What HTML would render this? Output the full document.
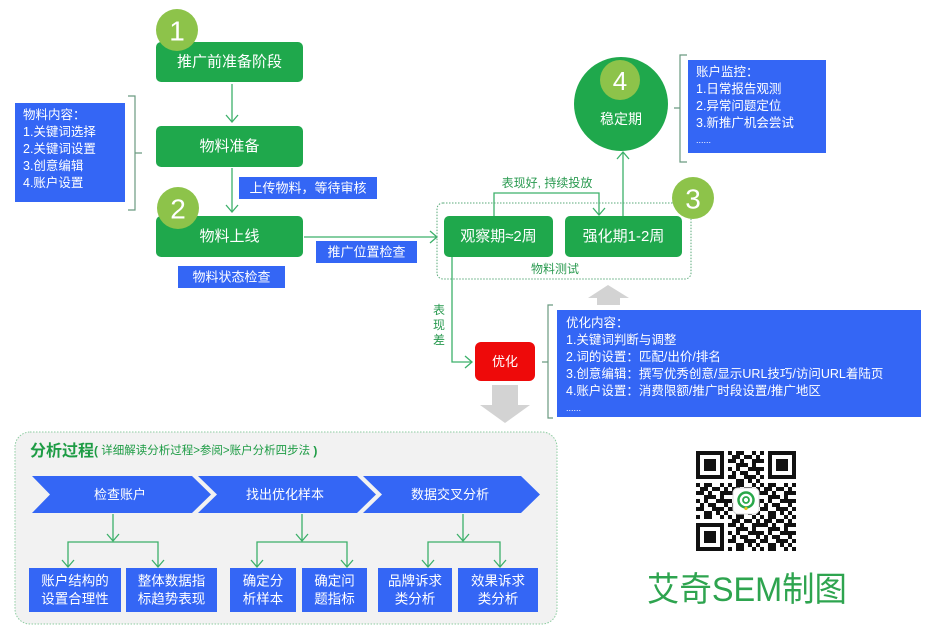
<!DOCTYPE html>
<html><head><meta charset="utf-8"><style>
html,body{margin:0;padding:0;background:#fff;width:933px;height:641px;overflow:hidden}
svg{display:block;font-family:"Liberation Sans","Noto Sans CJK SC",sans-serif}
</style></head><body>
<svg width="933" height="641" viewBox="0 0 933 641" xmlns="http://www.w3.org/2000/svg">
<defs>
<pattern id="qr" x="696" y="451" width="32" height="32" patternUnits="userSpaceOnUse">
<path fill="#111" d="M0 0h4v4h-4z M8 0h8v4h-8z M24 0h4v4h-4z M4 4h8v4h-8z M16 4h8v4h-8z M28 4h4v4h-4z M0 8h8v4h-8z M12 8h4v4h-4z M24 8h8v4h-8z M8 12h12v4h-12z M24 12h4v4h-4z M0 16h4v4h-4z M8 16h4v4h-4z M20 16h12v4h-12z M4 20h4v4h-4z M12 20h8v4h-8z M28 20h4v4h-4z M0 24h8v4h-8z M16 24h12v4h-12z M8 28h8v4h-8z M20 28h4v4h-4z M28 28h4v4h-4z"/>
</pattern>
</defs>

<!-- connectors top-left -->
<g stroke="#3cb06a" stroke-width="1.3" fill="none">
<line x1="232" y1="84" x2="232" y2="122"/><polyline points="226,115 232,122 238,115"/>
<line x1="232" y1="168" x2="232" y2="212"/><polyline points="226,205 232,212 238,205"/>
<line x1="304" y1="237" x2="437" y2="237"/><polyline points="430,231 437,237 430,243"/>
<polyline points="494,216 494,193 599,193 599,215"/><polyline points="593,208 599,215 605,208"/>
<line x1="623" y1="216" x2="623" y2="152"/><polyline points="617,159 623,152 629,159"/>
<polyline points="452,257 452,362 472,362"/><polyline points="465,356 472,362 465,368"/>
</g>
<!-- brackets -->
<g stroke="#6a9a80" stroke-width="1.2" fill="none">
<path d="M128,96 H135 V210 H128 M135,153 H142"/>
<path d="M687,55 H680 V162 H687 M680,108 H674"/>
<path d="M553,305 H548 V418 H553 M548,362 H542"/>
</g>

<!-- stage 1/2 boxes -->
<rect x="156" y="42" width="147" height="40" rx="5" fill="#1fa84c"/>
<text x="229.5" y="62" fill="#fff" font-size="15" text-anchor="middle" dominant-baseline="central">推广前准备阶段</text>
<circle cx="177" cy="30" r="21" fill="#8dc34a"/>
<text x="177" y="31" fill="#fff" font-size="28" text-anchor="middle" dominant-baseline="central">1</text>

<rect x="156" y="126" width="147" height="41" rx="5" fill="#1fa84c"/>
<text x="229.5" y="146.5" fill="#fff" font-size="15" text-anchor="middle" dominant-baseline="central">物料准备</text>

<rect x="156" y="216" width="147" height="41" rx="5" fill="#1fa84c"/>
<text x="229.5" y="236.5" fill="#fff" font-size="15" text-anchor="middle" dominant-baseline="central">物料上线</text>
<circle cx="178" cy="208" r="21" fill="#8dc34a"/>
<text x="178" y="209" fill="#fff" font-size="28" text-anchor="middle" dominant-baseline="central">2</text>

<!-- left blue -->
<rect x="15" y="103" width="110" height="99" fill="#3466f5"/>
<g fill="#fff" font-size="12.5" dominant-baseline="central">
<text x="23" y="115">物料内容：</text>
<text x="23" y="132">1.关键词选择</text>
<text x="23" y="149">2.关键词设置</text>
<text x="23" y="166">3.创意编辑</text>
<text x="23" y="183">4.账户设置</text>
</g>

<rect x="239" y="177" width="138" height="22" fill="#3466f5"/>
<text x="308" y="188" fill="#fff" font-size="13" text-anchor="middle" dominant-baseline="central">上传物料，等待审核</text>
<rect x="178" y="266" width="107" height="22" fill="#3466f5"/>
<text x="231.5" y="277" fill="#fff" font-size="13" text-anchor="middle" dominant-baseline="central">物料状态检查</text>
<rect x="316" y="241" width="101" height="22" fill="#3466f5"/>
<text x="366.5" y="252" fill="#fff" font-size="13" text-anchor="middle" dominant-baseline="central">推广位置检查</text>

<!-- stage 3 -->
<rect x="437" y="203" width="254" height="76" rx="6" fill="none" stroke="#5aaa7a" stroke-width="1" stroke-dasharray="1.5,1.5"/>
<rect x="444" y="216" width="109" height="41" rx="5" fill="#1fa84c"/>
<text x="498.5" y="236.5" fill="#fff" font-size="15" text-anchor="middle" dominant-baseline="central">观察期≈2周</text>
<rect x="565" y="216" width="117" height="41" rx="5" fill="#1fa84c"/>
<text x="623.5" y="236.5" fill="#fff" font-size="15" text-anchor="middle" dominant-baseline="central">强化期1-2周</text>
<text x="547" y="183" fill="#2a9a50" font-size="12" text-anchor="middle" dominant-baseline="central">表现好, 持续投放</text>
<text x="555" y="269" fill="#2a9a50" font-size="12" text-anchor="middle" dominant-baseline="central">物料测试</text>
<circle cx="693" cy="198" r="21" fill="#8dc34a"/>
<text x="693" y="199" fill="#fff" font-size="28" text-anchor="middle" dominant-baseline="central">3</text>

<!-- stage 4 -->
<circle cx="621" cy="104" r="47" fill="#1fa84c"/>
<circle cx="620" cy="80" r="20" fill="#8dc34a"/>
<text x="620" y="81" fill="#fff" font-size="26" text-anchor="middle" dominant-baseline="central">4</text>
<text x="621" y="119" fill="#fff" font-size="14" text-anchor="middle" dominant-baseline="central">稳定期</text>
<rect x="688" y="60" width="138" height="93" fill="#3466f5"/>
<g fill="#fff" font-size="12.5" dominant-baseline="central">
<text x="696" y="72">账户监控：</text>
<text x="696" y="89">1.日常报告观测</text>
<text x="696" y="106">2.异常问题定位</text>
<text x="696" y="123">3.新推广机会尝试</text>
<text x="696" y="140" font-size="9">......</text>
</g>

<!-- optimize -->
<g fill="#2a9a50" font-size="12" text-anchor="middle" dominant-baseline="central">
<text x="439" y="310">表</text><text x="439" y="325">现</text><text x="439" y="340">差</text>
</g>
<rect x="475" y="342" width="60" height="39" rx="6" fill="#ee0a0a"/>
<text x="505" y="361.5" fill="#fff" font-size="13" text-anchor="middle" dominant-baseline="central">优化</text>
<polygon points="608,285 629,298 620,298 620,305 597,305 597,298 588,298" fill="#d3d3d3"/>
<rect x="492" y="385" width="26" height="20" fill="#d3d3d3"/>
<polygon points="480,405 530,405 505,423" fill="#d3d3d3"/>

<rect x="557" y="310" width="364" height="107" fill="#3466f5"/>
<g fill="#fff" font-size="12.5" dominant-baseline="central">
<text x="566" y="323">优化内容：</text>
<text x="566" y="340">1.关键词判断与调整</text>
<text x="566" y="357">2.词的设置：匹配/出价/排名</text>
<text x="566" y="374">3.创意编辑：撰写优秀创意/显示URL技巧/访问URL着陆页</text>
<text x="566" y="391">4.账户设置：消费限额/推广时段设置/推广地区</text>
<text x="566" y="408" font-size="9">......</text>
</g>

<!-- bottom panel -->
<rect x="15" y="432" width="542" height="192" rx="15" fill="#f2f2f2" stroke="#8ccca0" stroke-width="1" stroke-dasharray="1.5,1.5"/>
<text x="30" y="451" fill="#1e9c45" dominant-baseline="central"><tspan font-size="16" font-weight="bold">分析过程</tspan><tspan font-size="12" font-weight="bold">(</tspan><tspan font-size="11.5"> 详细解读分析过程&gt;参阅&gt;账户分析四步法 </tspan><tspan font-size="12" font-weight="bold">)</tspan></text>

<polygon points="32,476 192,476 211,494.5 192,513 32,513 50,494.5" fill="#3466f5"/>
<polygon points="198,476 357,476 376,494.5 357,513 198,513 217,494.5" fill="#3466f5"/>
<polygon points="363,476 521,476 540,494.5 521,513 363,513 382,494.5" fill="#3466f5"/>
<g fill="#fff" font-size="13" text-anchor="middle" dominant-baseline="central">
<text x="120" y="494.5">检查账户</text>
<text x="285" y="494.5">找出优化样本</text>
<text x="450" y="494.5">数据交叉分析</text>
</g>

<g stroke="#3cb06a" stroke-width="1.3" fill="none">
<line x1="113" y1="514" x2="113" y2="541"/><polyline points="107,534 113,541 119,534"/>
<polyline points="68,567 68,542 158,542 158,567"/>
<polyline points="62,560 68,567 74,560"/><polyline points="152,560 158,567 164,560"/>
<line x1="302" y1="514" x2="302" y2="541"/><polyline points="296,534 302,541 308,534"/>
<polyline points="257,567 257,542 347,542 347,567"/>
<polyline points="251,560 257,567 263,560"/><polyline points="341,560 347,567 353,560"/>
<line x1="463" y1="514" x2="463" y2="541"/><polyline points="457,534 463,541 469,534"/>
<polyline points="428,567 428,542 500,542 500,567"/>
<polyline points="422,560 428,567 434,560"/><polyline points="494,560 500,567 506,560"/>
</g>

<g fill="#3466f5">
<rect x="29" y="568" width="92" height="44"/>
<rect x="126" y="568" width="91" height="44"/>
<rect x="230" y="568" width="66" height="44"/>
<rect x="302" y="568" width="65" height="44"/>
<rect x="378" y="568" width="74" height="44"/>
<rect x="458" y="568" width="80" height="44"/>
</g>
<g fill="#fff" font-size="13.5" text-anchor="middle" dominant-baseline="central">
<text x="75" y="581">账户结构的</text><text x="75" y="599">设置合理性</text>
<text x="171.5" y="581">整体数据指</text><text x="171.5" y="599">标趋势表现</text>
<text x="263" y="581">确定分</text><text x="263" y="599">析样本</text>
<text x="334.5" y="581">确定问</text><text x="334.5" y="599">题指标</text>
<text x="415" y="581">品牌诉求</text><text x="415" y="599">类分析</text>
<text x="498" y="581">效果诉求</text><text x="498" y="599">类分析</text>
</g>

<!-- QR -->
<rect x="696" y="451" width="100" height="100" fill="#fff"/>
<rect x="696" y="451" width="100" height="100" fill="url(#qr)"/>
<g>
<rect x="696" y="451" width="32" height="32" fill="#fff"/>
<rect x="764" y="451" width="32" height="32" fill="#fff"/>
<rect x="696" y="519" width="32" height="32" fill="#fff"/>
<rect x="696" y="451" width="28" height="28" fill="#111"/><rect x="700" y="455" width="20" height="20" fill="#fff"/><rect x="704" y="459" width="12" height="12" fill="#111"/>
<rect x="768" y="451" width="28" height="28" fill="#111"/><rect x="772" y="455" width="20" height="20" fill="#fff"/><rect x="776" y="459" width="12" height="12" fill="#111"/>
<rect x="696" y="523" width="28" height="28" fill="#111"/><rect x="700" y="527" width="20" height="20" fill="#fff"/><rect x="704" y="531" width="12" height="12" fill="#111"/>
<rect x="733" y="488" width="26" height="26" rx="5" fill="#fff" stroke="#ddd"/>
<circle cx="746" cy="500" r="7.5" fill="none" stroke="#2aa84a" stroke-width="2.5"/>
<circle cx="746" cy="500" r="3" fill="none" stroke="#2aa84a" stroke-width="1.8"/>
<circle cx="746" cy="508.5" r="1.6" fill="#e6c020"/>
</g>
<text x="647" y="590" fill="#2ea44f" font-size="34" dominant-baseline="central" textLength="200" lengthAdjust="spacingAndGlyphs">艾奇SEM制图</text>
</svg>
</body></html>
